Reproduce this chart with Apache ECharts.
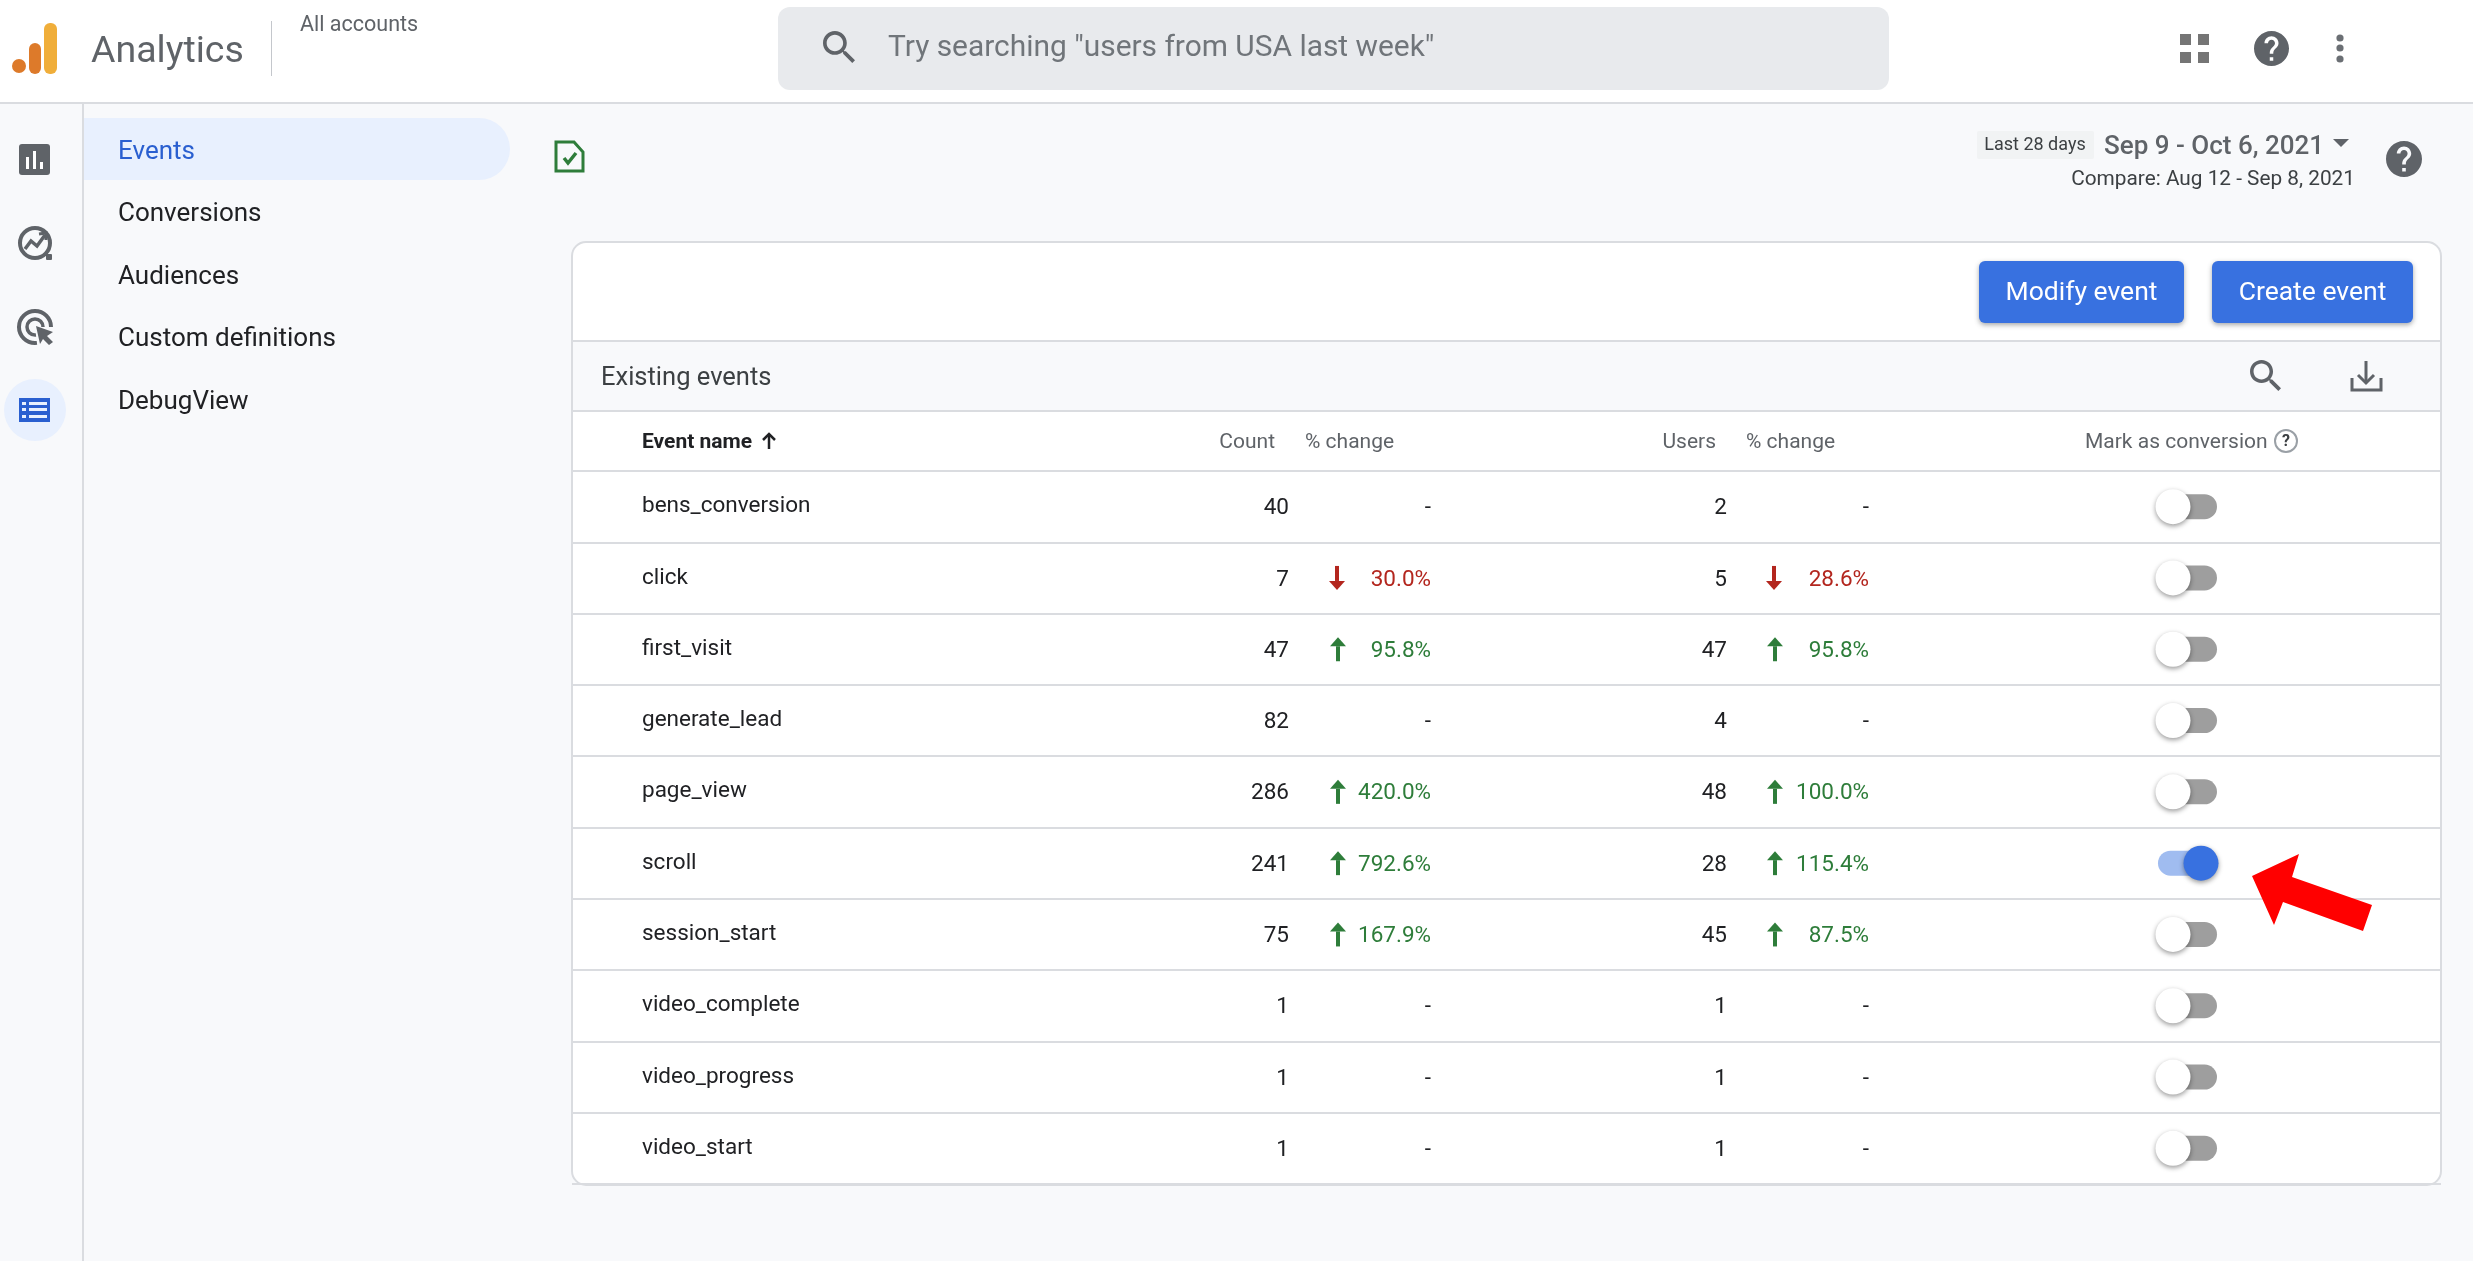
<!DOCTYPE html>
<html>
<head>
<meta charset="utf-8">
<title>Events</title>
<style>
html, body { margin: 0; padding: 0; background: #f8f9fb; }
#main { width: 2473px; height: 1261px; }
</style>
<script src="https://cdn.jsdelivr.net/npm/echarts@6/dist/echarts.min.js"></script>
</head>
<body>
<div id="main"></div>
<script>
// table values (null = "-" in the % change column)
var eventNames = ['bens_conversion', 'click', 'first_visit', 'generate_lead', 'page_view', 'scroll', 'session_start', 'video_complete', 'video_progress', 'video_start'];
var counts = [40, 7, 47, 82, 286, 241, 75, 1, 1, 1];
var countChanges = [null, -30.0, 95.8, null, 420.0, 792.6, 167.9, null, null, null];
var users = [2, 5, 47, 4, 48, 28, 45, 1, 1, 1];
var userChanges = [null, -28.6, 95.8, null, 100.0, 115.4, 87.5, null, null, null];
var markedConversion = [false, false, false, false, false, true, false, false, false, false];
var navItems = ['Events', 'Conversions', 'Audiences', 'Custom definitions', 'DebugView'];

var FONT = 'Roboto, sans-serif';
var GREY = '#5f6368', INK = '#202124', BLUE = '#3871e0', NAVBLUE = '#2a5fd0', LINE = '#dadce0';
var GREEN = '#2e7d3a', RED = '#b3261e';

// column positions, the hidden x axis runs in these units
var COL = { count: 1289, countArrow: 1338, countChange: 1431, users: 1727, usersArrow: 1775, usersChange: 1869, thumbOff: 2173, thumbOn: 2201 };

var SEARCH_ICON = 'M15.5 14h-.79l-.28-.27C15.41 12.59 16 11.11 16 9.5 16 5.91 13.09 3 9.5 3S3 5.91 3 9.5 5.91 16 9.5 16c1.61 0 3.09-.59 4.23-1.57l.27.28v.79l5 4.99L20.49 19l-4.99-5zm-6 0C7.01 14 5 11.99 5 9.5S7.01 5 9.5 5 14 7.01 14 9.5 11.99 14 9.5 14z';
var HELP_ICON = 'M12 2C6.48 2 2 6.48 2 12s4.48 10 10 10 10-4.48 10-10S17.52 2 12 2zm1 17h-2v-2h2v2zm2.07-7.75l-.9.92C13.45 12.9 13 13.5 13 15h-2v-.5c0-1.1.45-2.1 1.17-2.83l1.24-1.26c.37-.36.59-.86.59-1.41 0-1.1-.9-2-2-2s-2 .9-2 2H8c0-2.21 1.79-4 4-4s4 1.79 4 4c0 .88-.36 1.68-.93 2.25z';

// y + 2: roboto sits a bit high with middle alignment
function txt(x, y, s, size, fill, align, weight) {
    return {
        type: 'text', z: 10,
        style: {
            x: x, y: y + 2, text: s, fill: fill,
            font: (weight || 400) + ' ' + size + 'px ' + FONT,
            align: align || 'left', verticalAlign: 'middle',
            textAlign: align || 'left', textVerticalAlign: 'middle'
        }
    };
}
function box(x, y, w, h, fill, r, z) {
    return { type: 'rect', z: z === undefined ? 1 : z, shape: { x: x, y: y, width: w, height: h, r: r || 0 }, style: { fill: fill } };
}
function dot(cx, cy, r, fill) {
    return { type: 'circle', z: 2, shape: { cx: cx, cy: cy, r: r }, style: { fill: fill } };
}
function stroke(points, color, width, closed) {
    return { type: closed ? 'polygon' : 'polyline', z: 3, shape: { points: points }, style: { stroke: color, lineWidth: width, fill: closed ? 'none' : null } };
}

// svg path icons, graphic component can't take them so they go through a custom series
var pathIcons = [
    [SEARCH_ICON, 823, 31, 32, 32],
    [HELP_ICON, 2254, 31, 35, 35],
    [HELP_ICON, 2386, 141, 36, 36],
    [SEARCH_ICON, 2250, 360, 31, 31]
];

// everything around the table
var chrome = [];
// top bar
chrome.push(box(0, 0, 2473, 103, '#ffffff', 0, 0));
chrome.push(box(0, 102, 2473, 2, LINE, 0, 1));
chrome.push(dot(19, 66, 7, '#dd7a2a'));
chrome.push(box(29, 43, 12, 31, '#dd7a2a', 6));
chrome.push(box(44, 23, 13, 51, '#f0ae3a', 6));
chrome.push(txt(91, 51, 'Analytics', 37.5, GREY));
chrome.push(box(271, 21, 1, 55, '#c4c7cc'));
chrome.push(txt(300, 24, 'All accounts', 21.5, GREY));
chrome.push(box(778, 7, 1111, 83, '#e8eaed', 12));
chrome.push(txt(888, 47, 'Try searching "users from USA last week"', 29.9, '#70757a'));
[[2180, 34], [2198, 34], [2180, 52], [2198, 52]].forEach(function (p) {
    chrome.push(box(p[0], p[1], 11, 11, '#757575'));
});
[38, 48, 59].forEach(function (y) { chrome.push(dot(2340, y, 3.6, '#6b6f74')); });

// left rail
chrome.push(box(82, 104, 2, 1157, LINE));
chrome.push(box(19, 144, 31, 31, GREY, 3));
chrome.push(box(26, 157, 3, 12, '#ffffff', 0, 2));
chrome.push(box(33, 151, 3, 18, '#ffffff', 0, 2));
chrome.push(box(40, 162, 3, 7, '#ffffff', 0, 2));
chrome.push({ type: 'circle', z: 2, shape: { cx: 35, cy: 243, r: 15 }, style: { fill: 'none', stroke: GREY, lineWidth: 4 } });
chrome.push(stroke([[25, 249], [31, 241], [37, 246], [45, 235]], GREY, 3.5));
chrome.push(stroke([[39, 234], [46, 233], [46, 240]], GREY, 3));
chrome.push(box(46, 254, 6, 6, GREY, 1));
chrome.push({ type: 'arc', z: 2, shape: { cx: 35, cy: 327, r: 16, startAngle: 0, endAngle: 1.45, clockwise: false }, style: { fill: 'none', stroke: GREY, lineWidth: 4 } });
chrome.push({ type: 'arc', z: 2, shape: { cx: 35, cy: 327, r: 8, startAngle: 0, endAngle: 1.45, clockwise: false }, style: { fill: 'none', stroke: GREY, lineWidth: 3.5 } });
chrome.push({ type: 'polygon', z: 3, shape: { points: [[36, 326], [53, 332], [47, 336], [53, 342], [49, 345], [43, 339], [40, 344]] }, style: { fill: GREY } });
chrome.push(dot(35, 410, 31, '#e8f0fe'));
chrome.push(box(19, 398, 31, 24, NAVBLUE, 0, 2));
[402, 408, 415].forEach(function (y) {
    chrome.push(box(22, y, 4, 3, '#e8f0fe', 0, 3));
    chrome.push(box(29, y, 18, 3, '#e8f0fe', 0, 3));
});

// nav list
chrome.push(box(84, 118, 426, 62, '#e8f0fe', [0, 31, 31, 0]));
navItems.forEach(function (name, i) {
    chrome.push(txt(118, 150 + i * 62.5, name, 26, i === 0 ? NAVBLUE : INK));
});

// page header
chrome.push(stroke([[556, 142], [574, 142], [583, 152], [583, 171], [556, 171]], GREEN, 3, true));
chrome.push(stroke([[564, 158], [568, 163], [576, 153]], GREEN, 3.5));
chrome.push(box(1977, 131, 117, 28, '#f1f3f4', 2));
chrome.push(txt(2035, 143, 'Last 28 days', 18, '#3c4043', 'center'));
chrome.push(txt(2104, 145, 'Sep 9 - Oct 6, 2021', 26, GREY, 'left', 500));
chrome.push({ type: 'polygon', z: 3, shape: { points: [[2333, 139], [2349, 139], [2341, 147]] }, style: { fill: GREY } });
chrome.push(txt(2355, 178, 'Compare: Aug 12 - Sep 8, 2021', 20.8, '#3c4043', 'right'));

// card
chrome.push({ type: 'rect', z: 0, shape: { x: 572, y: 242, width: 1869, height: 943, r: 14 }, style: { fill: '#ffffff', stroke: LINE, lineWidth: 2 } });
chrome.push(box(573, 341, 1867, 70, '#f8f9fb', 0, 1));
chrome.push(box(573, 340, 1867, 2, LINE, 0, 2));
chrome.push(box(573, 410, 1867, 2, LINE, 0, 2));
[[1979, 205, 'Modify event'], [2212, 201, 'Create event']].forEach(function (b) {
    chrome.push({ type: 'rect', z: 3, shape: { x: b[0], y: 261, width: b[1], height: 62, r: 6 }, style: { fill: BLUE, shadowColor: 'rgba(60,64,67,0.45)', shadowBlur: 5, shadowOffsetY: 2 } });
    chrome.push(txt(b[0] + b[1] / 2, 291, b[2], 26.5, '#ffffff', 'center'));
});
chrome.push(txt(601, 377, 'Existing events', 25.5, '#3c4043'));
chrome.push(stroke([[2352, 378], [2352, 390], [2381, 390], [2381, 378]], GREY, 3));
chrome.push(stroke([[2366, 361], [2366, 383]], GREY, 3));
chrome.push(stroke([[2358, 375], [2366, 383], [2374, 375]], GREY, 3));

// column headers
chrome.push(txt(642, 441, 'Event name', 21, INK, 'left', 700));
chrome.push(stroke([[769, 449], [769, 434]], INK, 2.5));
chrome.push(stroke([[763, 440], [769, 434], [775, 440]], INK, 2.5));
chrome.push(txt(1275, 441, 'Count', 21, GREY, 'right'));
chrome.push(txt(1305, 441, '% change', 21, GREY));
chrome.push(txt(1716, 441, 'Users', 21, GREY, 'right'));
chrome.push(txt(1746, 441, '% change', 21, GREY));
chrome.push(txt(2085, 441, 'Mark as conversion', 21, GREY));
chrome.push({ type: 'circle', z: 3, shape: { cx: 2286, cy: 441, r: 11 }, style: { fill: '#ffffff', stroke: '#9aa0a6', lineWidth: 2 } });
chrome.push(txt(2286, 440, '?', 16, '#3c4043', 'center', 700));

// red pointer added on the screenshot
chrome.push({ type: 'polygon', z: 50, shape: { points: [[2252, 876], [2299, 854], [2292, 877], [2372, 905], [2363, 931], [2283, 902], [2274, 925]] }, style: { fill: '#ff0000' } });

function changeCell(y, arrowX, rightX, value) {
    if (value === null) {
        return [txt(rightX, y, '-', 22.5, INK, 'right')];
    }
    var up = value > 0, color = up ? GREEN : RED, x = arrowX - (up ? 0 : 1);
    var tip = up ? y - 12 : y + 12, base = up ? y - 3 : y + 3, end = up ? y + 12 : y - 12;
    return [
        { type: 'rect', shape: { x: x - 2, y: Math.min(base, end), width: 4, height: Math.abs(end - base) }, style: { fill: color } },
        { type: 'polygon', shape: { points: [[x - 8, base], [x + 8, base], [x, tip]] }, style: { fill: color } },
        txt(rightX, y, Math.abs(value).toFixed(1) + '%', 22.5, color, 'right')
    ];
}

function renderRow(params, api) {
    var i = params.dataIndex;
    var y = api.coord([COL.count, i])[1];
    var on = markedConversion[i];
    var kids = [txt(COL.count, y, String(counts[i]), 22.5, INK, 'right'), txt(COL.users, y, String(users[i]), 22.5, INK, 'right')];
    kids = kids.concat(changeCell(y, COL.countArrow, COL.countChange, countChanges[i]));
    kids = kids.concat(changeCell(y, COL.usersArrow, COL.usersChange, userChanges[i]));
    // conversion switch
    kids.push({ type: 'rect', shape: { x: on ? 2158 : 2160, y: y - 12.5, width: on ? 52 : 57, height: 25, r: 12.5 }, style: { fill: on ? '#a0bcf0' : '#9e9e9e' } });
    kids.push({
        type: 'circle',
        shape: { cx: on ? COL.thumbOn : COL.thumbOff, cy: y, r: 17.5 },
        style: { fill: on ? BLUE : '#ffffff', shadowColor: 'rgba(0,0,0,0.4)', shadowBlur: 5, shadowOffsetY: 2 }
    });
    return { type: 'group', children: kids };
}

function renderIcon(params) {
    var p = pathIcons[params.dataIndex];
    return {
        type: 'path',
        shape: { pathData: p[0], x: p[1], y: p[2], width: p[3], height: p[4], layout: 'cover' },
        style: { fill: GREY }
    };
}

var myChart = echarts.init(document.getElementById('main'));
var option = {
    backgroundColor: '#f8f9fb',
    animation: false,
    textStyle: { fontFamily: FONT },
    grid: { left: 572, right: 32, top: 471, height: 713 },
    xAxis: { type: 'value', min: 572, max: 2441, show: false },
    yAxis: {
        type: 'category',
        inverse: true,
        data: eventNames,
        z: 5,
        axisLine: { show: false },
        axisTick: { show: false },
        axisLabel: { inside: true, margin: 70, fontSize: 22.5, color: INK, fontFamily: FONT, padding: [7, 0, 0, 0] },
        splitLine: { show: true, lineStyle: { color: LINE, width: 2 } }
    },
    graphic: { elements: chrome },
    series: [{
        type: 'custom',
        z: 6,
        clip: false,
        renderItem: renderRow,
        encode: { x: 0, y: 1 },
        data: eventNames.map(function (name, i) { return [COL.count, i, counts[i], users[i]]; })
    }, {
        type: 'custom',
        z: 6,
        clip: false,
        silent: true,
        renderItem: renderIcon,
        encode: { x: 0, y: 1 },
        data: pathIcons.map(function () { return [COL.count, 0]; })
    }]
};
myChart.setOption(option);
</script>
</body>
</html>
